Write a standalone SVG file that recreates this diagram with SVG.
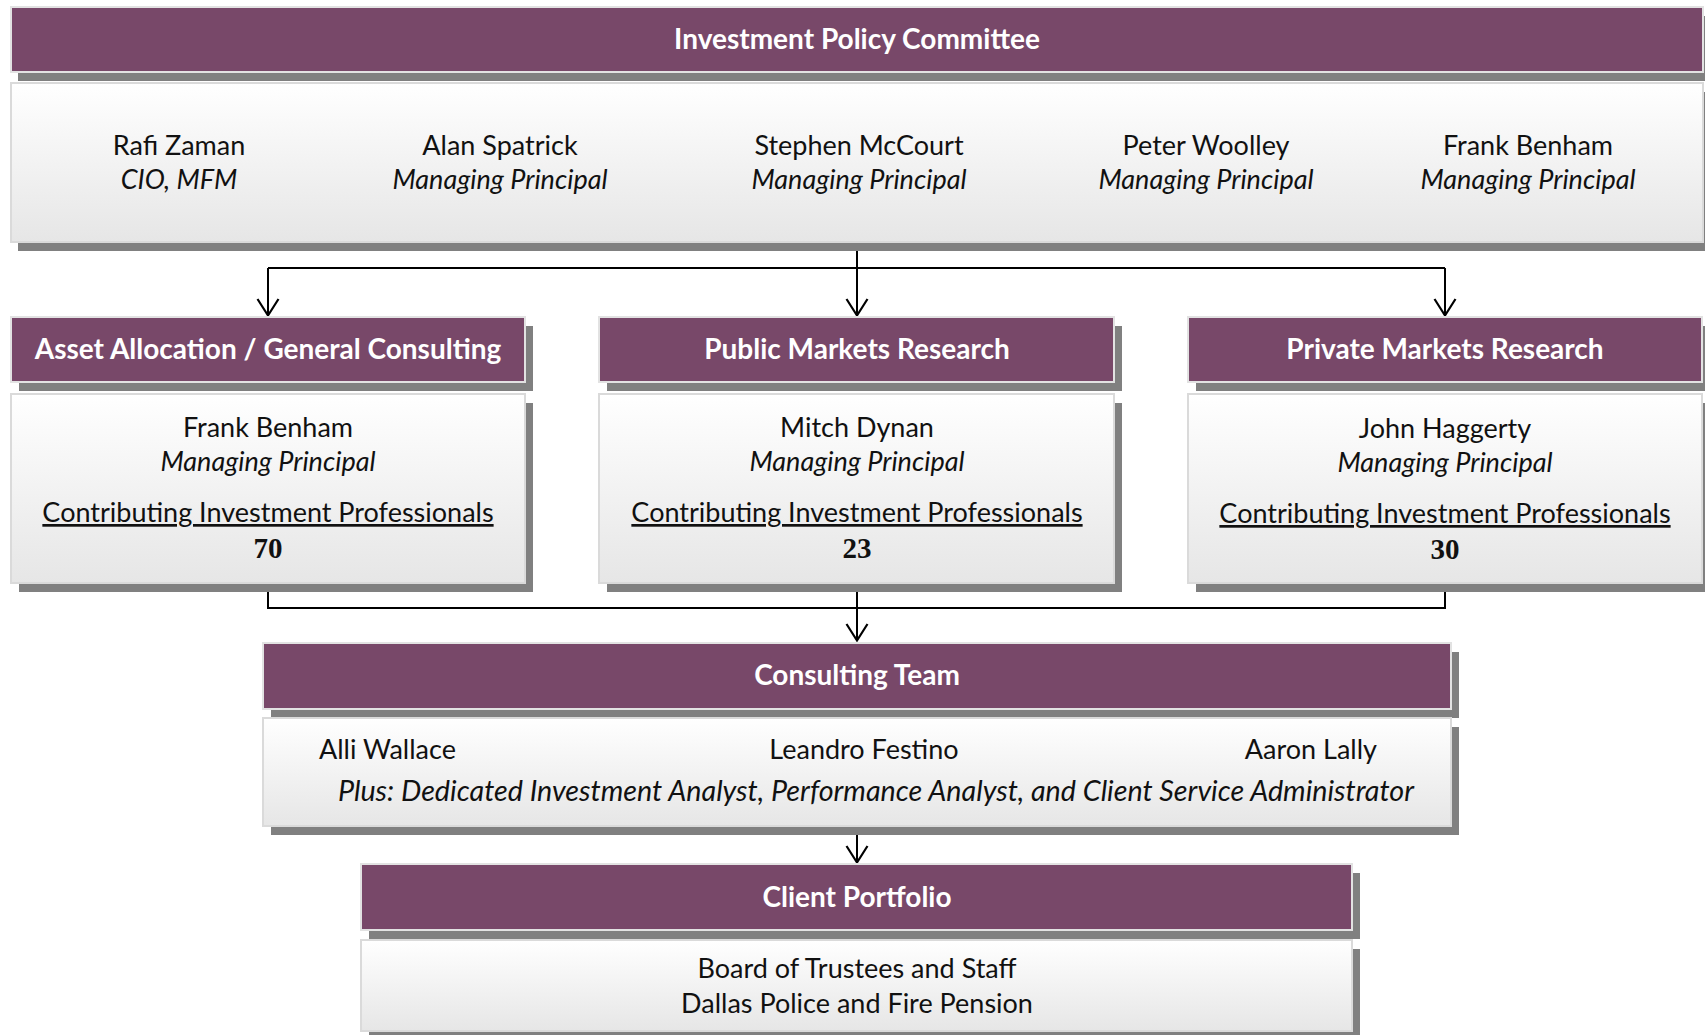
<svg xmlns="http://www.w3.org/2000/svg" width="1705" height="1035" viewBox="0 0 1705 1035">
<defs>
<linearGradient id="bodyGrad" x1="0" y1="0" x2="0" y2="1">
<stop offset="0" stop-color="#ffffff"/>
<stop offset="1" stop-color="#e6e6e6"/>
</linearGradient>
<marker id="arrow" viewBox="0 0 20 24" refX="18.5" refY="12" markerWidth="20" markerHeight="24" markerUnits="userSpaceOnUse" orient="auto">
<path d="M1.5,1.5 L18,12 L1.5,22.5" fill="none" stroke="#000" stroke-width="2.2"/>
</marker>
<style>
.shadow{fill:#808080;}
.head{fill:#784869;stroke:#e2e2e2;stroke-width:2;}
.body{fill:url(#bodyGrad);stroke:#dadada;stroke-width:2;}
.title{font-family:Lato,"Open Sans",sans-serif;font-weight:bold;font-size:28px;fill:#ffffff;text-anchor:middle;}
.t{font-family:Lato,"Open Sans",sans-serif;font-size:27px;fill:#111;text-anchor:middle;}
.i{font-family:Lato,"Open Sans",sans-serif;font-size:27px;font-style:italic;fill:#111;text-anchor:middle;}
.u{text-decoration:underline;text-decoration-skip-ink:none;}
.num{font-family:"Liberation Serif",serif;font-weight:bold;font-size:29px;fill:#111;text-anchor:middle;}
.conn{fill:none;stroke:#000;stroke-width:2;}
</style>
</defs>
<rect width="1705" height="1035" fill="#ffffff"/>

<g id="connectors">
<path class="conn" d="M857,251 V268"/>
<path class="conn" d="M268,268 H1445"/>
<path class="conn" d="M268,268 V316" marker-end="url(#arrow)"/>
<path class="conn" d="M857,268 V316" marker-end="url(#arrow)"/>
<path class="conn" d="M1445,268 V316" marker-end="url(#arrow)"/>
<path class="conn" d="M268,591 V608 H1445 V591"/>
<path class="conn" d="M857,591 V641" marker-end="url(#arrow)"/>
<path class="conn" d="M857,835 V863" marker-end="url(#arrow)"/>
</g>

<g id="investment-policy-committee">
<rect class="shadow" x="18" y="16" width="1692" height="65"/>
<rect class="head" x="11" y="7" width="1692" height="65"/>
<text class="title" x="857" y="49">Investment Policy Committee</text>
<rect class="shadow" x="18" y="92" width="1692" height="159"/>
<rect class="body" x="11" y="83" width="1692" height="159"/>
<text class="t" x="179" y="155">Rafi Zaman</text>
<text class="i" x="179" y="189">CIO, MFM</text>
<text class="t" x="500" y="155">Alan Spatrick</text>
<text class="i" x="500" y="189">Managing Principal</text>
<text class="t" x="859" y="155">Stephen McCourt</text>
<text class="i" x="859" y="189">Managing Principal</text>
<text class="t" x="1206" y="155">Peter Woolley</text>
<text class="i" x="1206" y="189">Managing Principal</text>
<text class="t" x="1528" y="155">Frank Benham</text>
<text class="i" x="1528" y="189">Managing Principal</text>
</g>

<g id="asset-allocation">
<rect class="shadow" x="19" y="326" width="514" height="65"/>
<rect class="head" x="11" y="317" width="514" height="65"/>
<text class="title" x="268" y="359">Asset Allocation / General Consulting</text>
<rect class="shadow" x="19" y="403" width="514" height="189"/>
<rect class="body" x="11" y="394" width="514" height="189"/>
<text class="t" x="268" y="437">Frank Benham</text>
<text class="i" x="268" y="471">Managing Principal</text>
<text class="t u" x="268" y="522">Contributing Investment Professionals</text>
<text class="num" x="268" y="558">70</text>
</g>

<g id="public-markets">
<rect class="shadow" x="607" y="326" width="515" height="65"/>
<rect class="head" x="599" y="317" width="515" height="65"/>
<text class="title" x="857" y="359">Public Markets Research</text>
<rect class="shadow" x="607" y="403" width="515" height="189"/>
<rect class="body" x="599" y="394" width="515" height="189"/>
<text class="t" x="857" y="437">Mitch Dynan</text>
<text class="i" x="857" y="471">Managing Principal</text>
<text class="t u" x="857" y="522">Contributing Investment Professionals</text>
<text class="num" x="857" y="558">23</text>
</g>

<g id="private-markets">
<rect class="shadow" x="1196" y="326" width="514" height="65"/>
<rect class="head" x="1188" y="317" width="514" height="65"/>
<text class="title" x="1445" y="359">Private Markets Research</text>
<rect class="shadow" x="1196" y="403" width="514" height="189"/>
<rect class="body" x="1188" y="394" width="514" height="189"/>
<text class="t" x="1445" y="438">John Haggerty</text>
<text class="i" x="1445" y="472">Managing Principal</text>
<text class="t u" x="1445" y="523">Contributing Investment Professionals</text>
<text class="num" x="1445" y="559">30</text>
</g>

<g id="consulting-team">
<rect class="shadow" x="271" y="652" width="1188" height="66"/>
<rect class="head" x="263" y="643" width="1188" height="66"/>
<text class="title" x="857" y="685">Consulting Team</text>
<rect class="shadow" x="271" y="727" width="1188" height="108"/>
<rect class="body" x="263" y="718" width="1188" height="108"/>
<text class="t" x="319" y="759" style="text-anchor:start">Alli Wallace</text>
<text class="t" x="864" y="759">Leandro Festino</text>
<text class="t" x="1377" y="759" style="text-anchor:end">Aaron Lally</text>
<text class="i" x="876" y="801" style="font-size:28px" textLength="1076" lengthAdjust="spacingAndGlyphs">Plus: Dedicated Investment Analyst, Performance Analyst, and Client Service Administrator</text>
</g>

<g id="client-portfolio">
<rect class="shadow" x="369" y="873" width="991" height="66"/>
<rect class="head" x="361" y="864" width="991" height="66"/>
<text class="title" x="857" y="907">Client Portfolio</text>
<rect class="shadow" x="369" y="949" width="991" height="90"/>
<rect class="body" x="361" y="940" width="991" height="91"/>
<text class="t" x="857" y="978">Board of Trustees and Staff</text>
<text class="t" x="857" y="1013">Dallas Police and Fire Pension</text>
</g>
</svg>
